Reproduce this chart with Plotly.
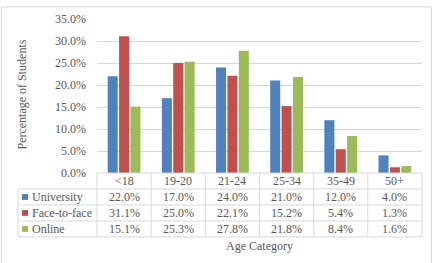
import plotly.graph_objects as go

categories = ["<18", "19-20", "21-24", "25-34", "35-49", "50+"]
university = [22.0, 17.0, 24.0, 21.0, 12.0, 4.0]
face_to_face = [31.1, 25.0, 22.1, 15.2, 5.4, 1.3]
online = [15.1, 25.3, 27.8, 21.8, 8.4, 1.6]
series_names = ["University", "Face-to-face", "Online"]
series_colors = ["#4F81BD", "#C0504D", "#9BBB59"]
y_ticks = [0, 5, 10, 15, 20, 25, 30, 35]

W, H = 436, 263
L, R, T, B = 97, 422, 14, 173
FONT = "Liberation Serif, Times New Roman, serif"
TXT = "#595959"
LINE = "#D9D9D9"

def xp(px):
    return (px - L) / (R - L)

def yp(py):
    return (B - py) / (B - T)

series = [university, face_to_face, online]
fig = go.Figure()
for name, vals, col in zip(series_names, series, series_colors):
    fig.add_trace(go.Bar(x=categories, y=vals, name=name, marker=dict(color=col, line=dict(width=0))))

shapes = []
annotations = []

# outer chart border
shapes.append(dict(type="rect", xref="paper", yref="paper", x0=xp(1.5), x1=xp(431.5),
                   y0=yp(1.5), y1=yp(275), line=dict(color=LINE, width=1), fillcolor="rgba(0,0,0,0)"))

# table rows (pixel boundaries)
row_edges = [173, 189.5, 206, 222.5, 239]
col_w = (R - L) / len(categories)
shapes.append(dict(type="line", xref="paper", yref="paper", x0=0, x1=1, y0=yp(173), y1=yp(173),
                   line=dict(color=LINE, width=1)))
for ry in row_edges[1:]:
    shapes.append(dict(type="line", xref="paper", yref="paper", x0=xp(18), x1=1, y0=yp(ry), y1=yp(ry),
                       line=dict(color=LINE, width=1)))
shapes.append(dict(type="line", xref="paper", yref="paper", x0=xp(18), x1=xp(18),
                   y0=yp(row_edges[1]), y1=yp(row_edges[-1]), line=dict(color=LINE, width=1)))
for i in range(len(categories) + 1):
    x = L + i * col_w
    shapes.append(dict(type="line", xref="paper", yref="paper", x0=xp(x), x1=xp(x),
                       y0=yp(173), y1=yp(row_edges[-1]), line=dict(color=LINE, width=1)))

for i, c in enumerate(categories):
    annotations.append(dict(x=xp(L + (i + 0.5) * col_w), y=yp((row_edges[0] + row_edges[1]) / 2),
                            xref="paper", yref="paper", text=c, showarrow=False,
                            xanchor="center", yanchor="middle",
                            font=dict(family=FONT, size=12, color=TXT)))

for r, (name, vals, col) in enumerate(zip(series_names, series, series_colors)):
    cy = (row_edges[r + 1] + row_edges[r + 2]) / 2
    shapes.append(dict(type="rect", xref="paper", yref="paper", x0=xp(22), x1=xp(28),
                       y0=yp(cy - 3), y1=yp(cy + 3), line=dict(width=0), fillcolor=col))
    annotations.append(dict(x=xp(30), y=yp(cy), xref="paper", yref="paper", text=name,
                            showarrow=False, xanchor="left", yanchor="middle",
                            font=dict(family=FONT, size=12, color=TXT)))
    for i, v in enumerate(vals):
        annotations.append(dict(x=xp(L + (i + 0.5) * col_w), y=yp(cy), xref="paper", yref="paper",
                                text=f"{v:.1f}%", showarrow=False, xanchor="center", yanchor="middle",
                                font=dict(family=FONT, size=12, color=TXT)))

annotations.append(dict(x=xp(259), y=yp(248), xref="paper", yref="paper", text="Age Category",
                        showarrow=False, xanchor="center", yanchor="middle",
                        font=dict(family=FONT, size=12, color=TXT)))
annotations.append(dict(x=xp(22), y=yp(92), xref="paper", yref="paper", text="Percentage of Students",
                        showarrow=False, xanchor="center", yanchor="middle", textangle=-90,
                        font=dict(family=FONT, size=12, color=TXT)))

fig.update_layout(
    width=W, height=H,
    margin=dict(l=L, r=W - R, t=T, b=H - B, pad=0),
    paper_bgcolor="white", plot_bgcolor="white",
    showlegend=False,
    barmode="group", bargap=0.37, bargroupgap=0.12,
    shapes=shapes, annotations=annotations,
    font=dict(family=FONT, size=12, color=TXT),
    xaxis=dict(showticklabels=False, showgrid=False, zeroline=False, showline=False,
               range=[-0.5, len(categories) - 0.5]),
    yaxis=dict(range=[0, 35], tickvals=y_ticks, ticktext=[f"{t:.1f}%" for t in y_ticks],
               showgrid=True, gridcolor=LINE, gridwidth=1, zeroline=False, showline=False,
               ticks="", ticklabelstandoff=10,
               tickfont=dict(family=FONT, size=12, color=TXT)),
)

fig.write_html("out.html")
